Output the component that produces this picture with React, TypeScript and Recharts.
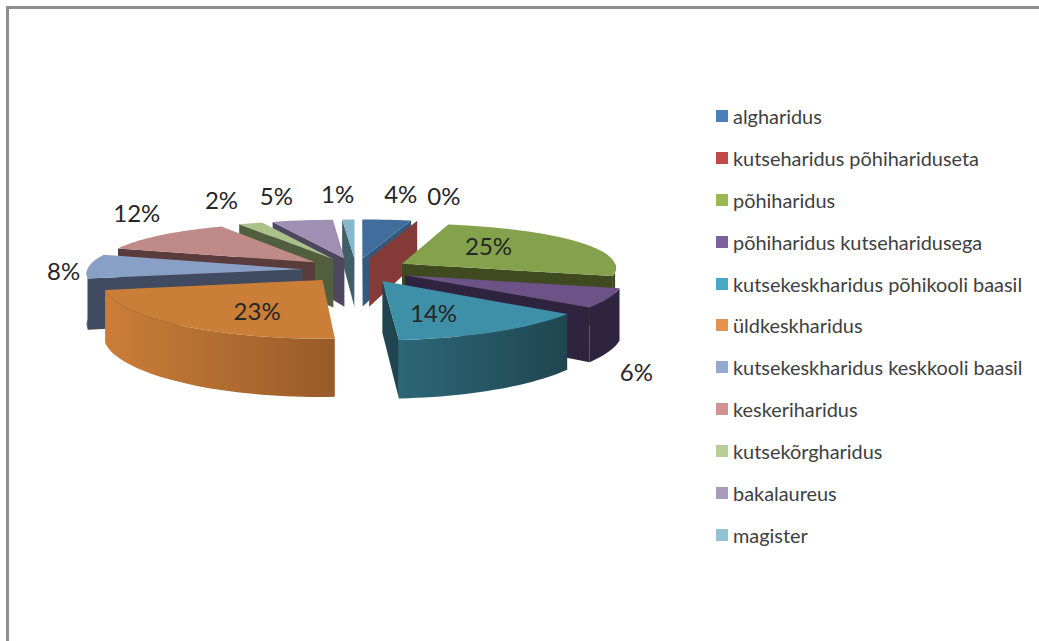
import React from 'react';
import { PieChart, Pie, Legend } from 'recharts';

const categories = [
  'algharidus',
  'kutseharidus põhihariduseta',
  'põhiharidus',
  'põhiharidus kutseharidusega',
  'kutsekeskharidus põhikooli baasil',
  'üldkeskharidus',
  'kutsekeskharidus keskkooli baasil',
  'keskeriharidus',
  'kutsekõrgharidus',
  'bakalaureus',
  'magister',
];
const shares = [4, 0, 25, 6, 14, 23, 8, 12, 2, 5, 1];

const legendColors = ['#4a7ebb', '#be4b48', '#98b954', '#7d60a0', '#46aac5', '#e5934c', '#93a9cf', '#d09392', '#b9cd96', '#a99bbd', '#92c3d4'];
const topColors = ['#416d9d', '#843a37', '#84a24b', '#6c5287', '#3e90a8', '#cb7e38', '#89a0c6', '#c08a88', '#aac18a', '#9e8fb3', '#85b8c9'];
const wallColors = ['#35587f', '#843a37', '#3f4a21', '#2f2440', '#1f4650', '#985b29', '#404a60', '#5a3c3d', '#525f3f', '#4f4660', '#425f68'];
const wallLightColors = ['#35587f', '#843a37', '#3f4a21', '#2f2440', '#2c6777', '#cb7e38', '#404a60', '#5a3c3d', '#525f3f', '#4f4660', '#425f68'];

// back slices are painted first, the front ones go over them
const paintOrder = [10, 9, 8, 7, 6, 5, 0, 1, 2, 3, 4];

// nudges for the percent labels, Excel placed them by hand here
const labelShifts = [[11, -16], [21, -15], [-99, 7], [37, 75], [-52, -11], [66, -8], [-24, 4], [-12, -18], [-20, -15], [-21, -15], [-10, -15]];

const PIE_CX = 356;
const PIE_CY = 270;
const RADIUS = 215;
const EXPLODE = 0.251;
const TILT = 0.228;
const PERSPECTIVE_X = 0.07;
const PERSPECTIVE_Y = 0.14;
const THICKNESS = 50;

const rad = (deg: number) => (deg * Math.PI) / 180;

// theta is clockwise from the top of the pie
const project = (cx: number, cy: number, r: number, theta: number, mid: number, dist: number, drop = 0) => {
  const X = EXPLODE * Math.sin(rad(mid)) + dist * Math.sin(rad(theta));
  const Y = -EXPLODE * Math.cos(rad(mid)) - dist * Math.cos(rad(theta));
  const sx = 1 + PERSPECTIVE_X * Y;
  const sy = 1 + PERSPECTIVE_Y * Y;
  return { x: cx + r * X * sx, y: cy + r * TILT * Y * sy + drop * sy };
};

const toPath = (pts: { x: number; y: number }[]) =>
  pts.map((p, i) => `${i === 0 ? 'M' : 'L'}${p.x.toFixed(1)} ${p.y.toFixed(1)}`).join(' ') + ' Z';

const sliceShape = (layer: number) => (props: any) => {
  if (props.name !== categories[layer]) return <g />;
  const { cx, cy, outerRadius: r } = props;
  const t1 = 90 - props.startAngle;
  const t2 = 90 - props.endAngle;
  const mid = (t1 + t2) / 2;
  const at = (theta: number, dist: number, drop = 0) => project(cx, cy, r, theta, mid, dist, drop);

  const apex = at(0, 0);
  const apexLow = at(0, 0, THICKNESS);
  const rim1 = at(t1, 1);
  const rim2 = at(t2, 1);

  const top = [apex];
  for (let t = t1; t < t2; t += 2) top.push(at(t, 1));
  top.push(rim2);

  const faces: string[] = [];
  if (rim1.x < apex.x) faces.push(toPath([apex, rim1, at(t1, 1, THICKNESS), apexLow]));
  if (rim2.x > apex.x) faces.push(toPath([apex, rim2, at(t2, 1, THICKNESS), apexLow]));

  const from = Math.max(t1, 90);
  const to = Math.min(t2, 270);
  let wall = '';
  let x1 = 0;
  let x2 = 0;
  if (to > from) {
    const upper = [];
    const lower = [];
    for (let t = from; t < to; t += 2) {
      upper.push(at(t, 1));
      lower.push(at(t, 1, THICKNESS));
    }
    upper.push(at(to, 1));
    lower.push(at(to, 1, THICKNESS));
    wall = toPath([...upper, ...lower.reverse()]);
    x1 = Math.min(...upper.map((p) => p.x));
    x2 = Math.max(...upper.map((p) => p.x));
  }
  const gradId = `wall-${layer}`;

  return (
    <g>
      {faces.map((d, i) => (
        <path key={i} d={d} fill={wallColors[layer]} />
      ))}
      {wall && (
        <>
          <defs>
            <linearGradient id={gradId} gradientUnits="userSpaceOnUse" x1={x1} x2={x2} y1={0} y2={0}>
              <stop offset="0%" stopColor={wallLightColors[layer]} />
              <stop offset="100%" stopColor={wallColors[layer]} />
            </linearGradient>
          </defs>
          <path d={wall} fill={`url(#${gradId})`} />
        </>
      )}
      <path d={toPath(top)} fill={topColors[layer]} />
    </g>
  );
};

const percentLabel = (props: any) => {
  const { cx, cy, midAngle, outerRadius: r, value, index } = props;
  const mid = 90 - midAngle;
  const reach = 1 + EXPLODE;
  const x = cx + r * reach * Math.sin(rad(mid)) + labelShifts[index][0];
  const y = cy - r * TILT * reach * Math.cos(rad(mid)) + labelShifts[index][1];
  return (
    <text x={x} y={y} textAnchor="middle" dominantBaseline="central" fontSize={24} fontFamily="Lato" fill="#262626">
      {`${value}%`}
    </text>
  );
};

const LegendList = () => (
  <div style={{ fontFamily: 'Lato', fontSize: 19.9, color: '#404040' }}>
    {categories.map((name, i) => (
      <div key={name} style={{ display: 'flex', alignItems: 'center', height: 41.9, whiteSpace: 'nowrap' }}>
        <span style={{ width: 12, height: 12, marginRight: 5, background: legendColors[i], flex: 'none' }} />
        {name}
      </div>
    ))}
  </div>
);

const tableData = categories.map((name, i) => ({ name, value: shares[i] }));

const App: React.FC = () => {
  return (
    <div style={{ position: 'fixed', left: 0, top: 0, width: 1039, height: 641, background: '#fff', overflow: 'hidden' }}>
      <div style={{ position: 'absolute', left: 6, top: 6, right: 0, bottom: 0, borderTop: '3px solid #8e8e8e', borderLeft: '3px solid #8e8e8e' }} />
      <PieChart width={1039} height={641} margin={{ top: 0, right: 0, bottom: 0, left: 0 }} style={{ position: 'absolute', left: 0, top: 0 }}>
        {paintOrder.map((layer) => (
          <Pie
            key={layer}
            data={tableData}
            dataKey="value"
            nameKey="name"
            cx={PIE_CX}
            cy={PIE_CY}
            outerRadius={RADIUS}
            startAngle={90}
            endAngle={-270}
            stroke="none"
            legendType="none"
            isAnimationActive={false}
            shape={sliceShape(layer)}
          />
        ))}
        <Pie
          data={tableData}
          dataKey="value"
          nameKey="name"
          cx={PIE_CX}
          cy={PIE_CY}
          outerRadius={RADIUS}
          startAngle={90}
          endAngle={-270}
          stroke="none"
          legendType="none"
          isAnimationActive={false}
          shape={() => <g />}
          label={percentLabel}
          labelLine={false}
        />
        <Legend
          layout="vertical"
          align="right"
          verticalAlign="top"
          wrapperStyle={{ left: 716, right: 'auto', top: 95, width: 320 }}
          content={() => <LegendList />}
        />
      </PieChart>
    </div>
  );
};

export default App;
